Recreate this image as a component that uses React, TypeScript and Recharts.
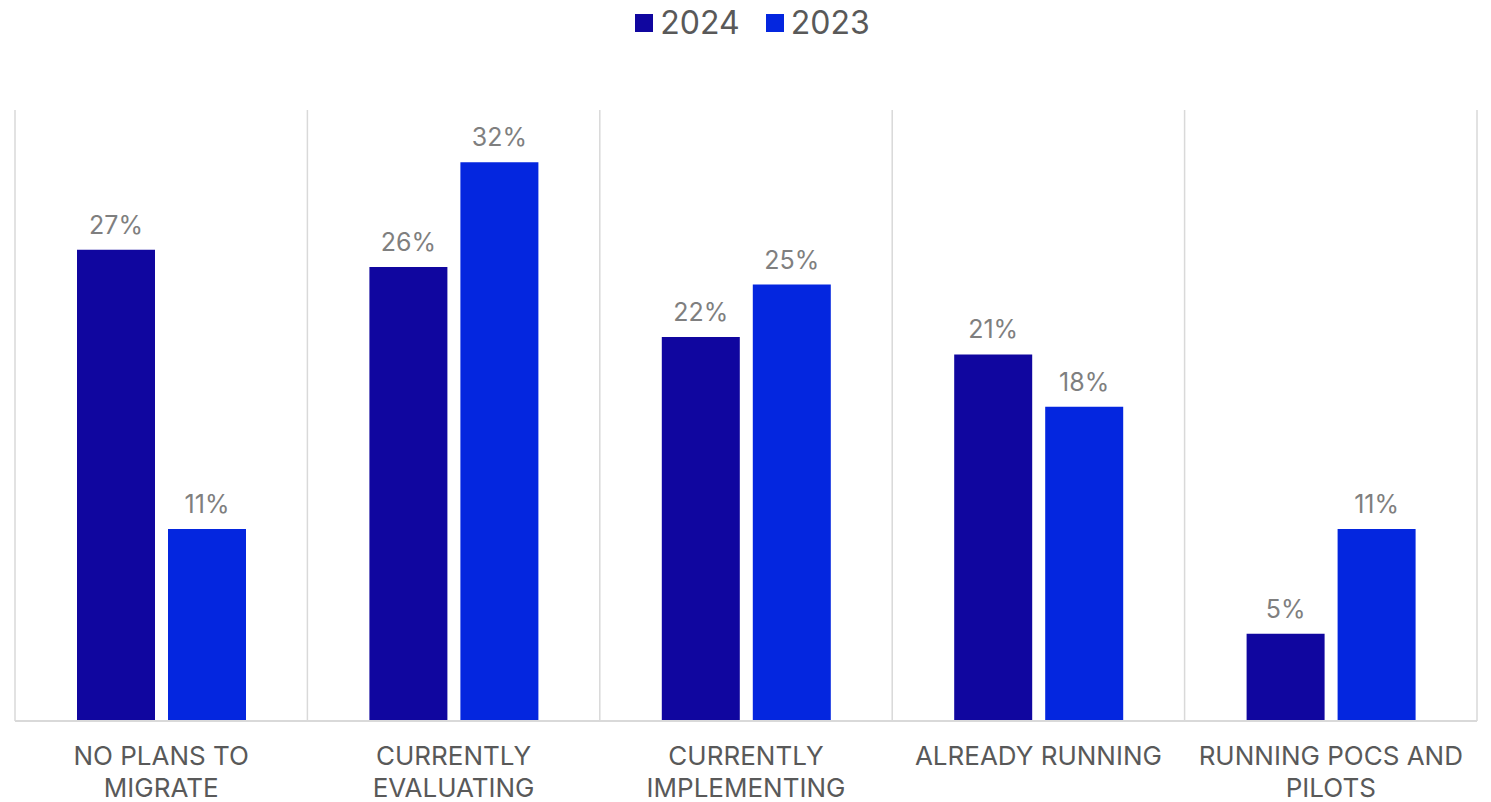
import { BarChart, Bar, XAxis, YAxis, CartesianGrid, LabelList } from "recharts"

const categories = [
  "NO PLANS TO\nMIGRATE",
  "CURRENTLY\nEVALUATING",
  "CURRENTLY\nIMPLEMENTING",
  "ALREADY RUNNING",
  "RUNNING POCS AND\nPILOTS",
]
const values2024 = [27, 26, 22, 21, 5]
const values2023 = [11, 32, 25, 18, 11]
const seriesNames = ["2024", "2023"]
const seriesColors = ["#10069f", "#0426df"]

const data = categories.map((name, i) => ({
  name,
  y2024: values2024[i],
  y2023: values2023[i],
}))

const FONT = "Inter, 'Noto Sans', sans-serif"

function CategoryTick({ x, y, payload }: any) {
  const lines = String(payload.value).split("\n")
  return (
    <text x={x} y={y + 44} textAnchor="middle" fill="#595959" fontSize={26} fontFamily={FONT}>
      {lines.map((line, i) => (
        <tspan key={i} x={x} dy={i === 0 ? 0 : 32}>
          {line}
        </tspan>
      ))}
    </text>
  )
}

function gridColumns({ offset }: any) {
  const left = offset?.left ?? 15
  const width = offset?.width ?? 1462
  return categories.map((_, i) => left + (i * width) / categories.length).concat(left + width)
}

export default function App() {
  return (
    <div style={{ position: "absolute", left: 0, top: 0, width: 1491, height: 802, background: "#fff", fontFamily: FONT }}>
      <div
        style={{
          position: "absolute",
          top: 0,
          left: 0,
          width: 1491,
          boxSizing: "border-box",
          paddingLeft: 14,
          display: "flex",
          justifyContent: "center",
          alignItems: "center",
          height: 46,
          gap: 26,
        }}
      >
        {seriesNames.map((s, i) => (
          <div key={s} style={{ display: "flex", alignItems: "center", gap: 7 }}>
            <span style={{ display: "inline-block", width: 18, height: 18, background: seriesColors[i] }} />
            <span style={{ fontSize: 32, color: "#595959", lineHeight: "46px" }}>{s}</span>
          </div>
        ))}
      </div>
      <BarChart
        width={1491}
        height={802}
        data={data}
        margin={{ top: 110, right: 14, bottom: 0, left: 15 }}
        barSize={78}
        barGap={13}
      >
        <CartesianGrid
          horizontal={false}
          stroke="#d9d9d9"
          strokeWidth={1.5}
          verticalCoordinatesGenerator={gridColumns}
        />
        <XAxis
          dataKey="name"
          height={81}
          interval={0}
          tickLine={false}
          tickSize={0}
          tickMargin={0}
          axisLine={{ stroke: "#d9d9d9", strokeWidth: 2 }}
          tick={<CategoryTick />}
        />
        <YAxis hide domain={[0, 35]} />
        <Bar dataKey="y2024" name="2024" fill={seriesColors[0]} isAnimationActive={false}>
          <LabelList
            dataKey="y2024"
            position="top"
            offset={16}
            formatter={(v: any) => `${v}%`}
            fill="#7f7f7f"
            fontSize={25}
            fontFamily={FONT}
          />
        </Bar>
        <Bar dataKey="y2023" name="2023" fill={seriesColors[1]} isAnimationActive={false}>
          <LabelList
            dataKey="y2023"
            position="top"
            offset={16}
            formatter={(v: any) => `${v}%`}
            fill="#7f7f7f"
            fontSize={25}
            fontFamily={FONT}
          />
        </Bar>
      </BarChart>
    </div>
  )
}
